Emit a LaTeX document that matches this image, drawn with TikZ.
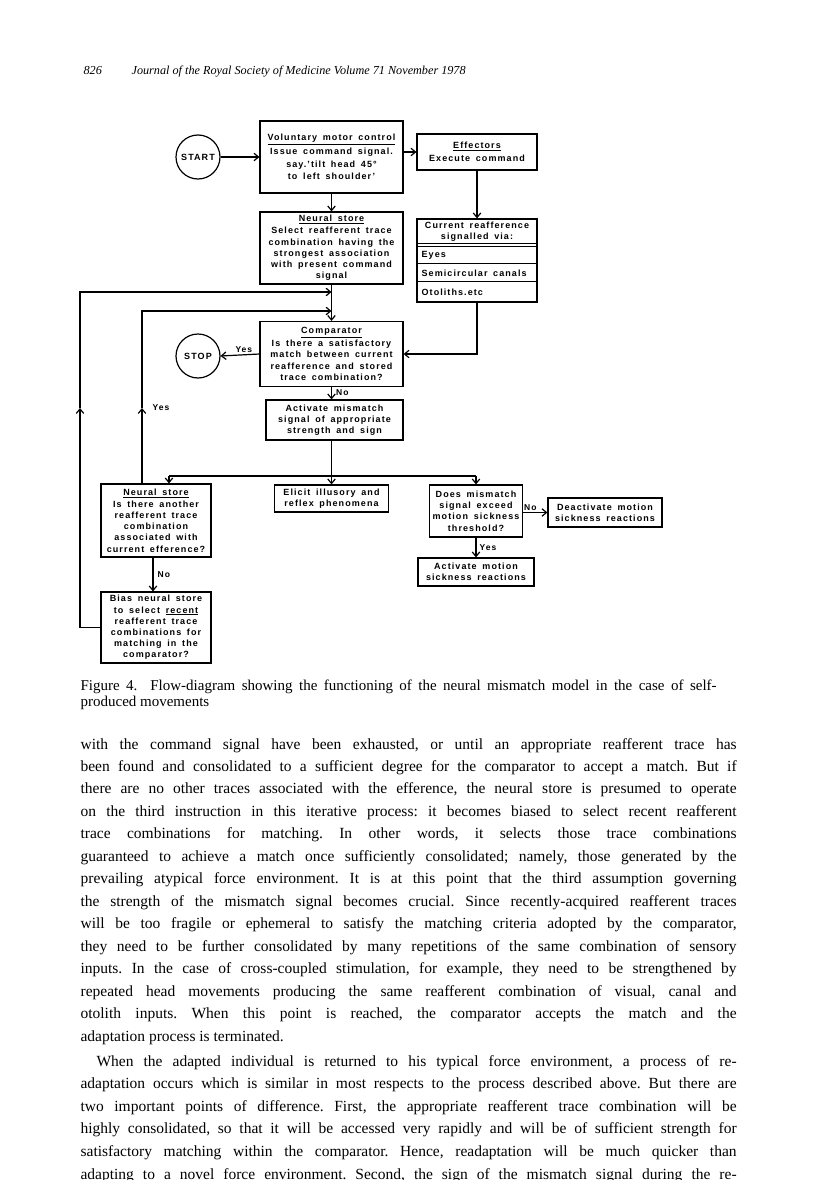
\documentclass[tikz,border=0pt]{standalone}
\usepackage{fontspec}
\setmainfont{Liberation Serif}
\newfontfamily\flowfont[LetterSpace=12,WordSpace=1.6]{Liberation Sans}
\usetikzlibrary{arrows.meta,calc}
\frenchspacing

\begin{document}
\begin{tikzpicture}[x=1pt, y=-1pt, line width=1.2pt,
  box/.style={draw, rectangle, inner sep=1pt, align=center,
    font=\flowfont\bfseries\fontsize{9}{11.2}\selectfont},
  term/.style={draw, circle, minimum size=44pt, inner sep=0pt,
    font=\flowfont\bfseries\fontsize{9}{11.2}\selectfont},
  lbl/.style={inner sep=1pt, font=\flowfont\bfseries\fontsize{8.5}{10}\selectfont},
  row/.style={anchor=west, inner sep=0pt, font=\flowfont\bfseries\fontsize{9}{11.2}\selectfont},
  arr/.style={-{Straight Barb[length=4.5pt,width=7.5pt]}},
  bodyline/.style={anchor=base west, inner sep=0pt, font=\fontsize{15.5}{22.5}\selectfont},
  capline/.style={anchor=base west, inner sep=0pt, font=\fontsize{15}{16}\selectfont}]

\useasboundingbox[fill=white] (0,0) rectangle (816,1180);

% running head
\node[anchor=base west, inner sep=0pt, font=\itshape\fontsize{12.2}{15}\selectfont] (pageno) at (83,75) {826};
\node[anchor=base west, inner sep=0pt, font=\itshape\fontsize{12.2}{15}\selectfont] (journal) at (131,75)
  {Journal of the Royal Society of Medicine Volume 71 November 1978};

% top row
\node[term] (start) at (198,157) {START};
\node[box, minimum width=143, minimum height=72] (vmc) at (331.5,157)
  {\underline{Voluntary motor control}\\[2.5pt]Issue command signal.\\[1.2pt]say.’tilt head 45°\\[1.2pt]to left shoulder’};
\node[box, minimum width=120, minimum height=36] (eff) at (477,152)
  {\underline{Effectors}\\[1.5pt]Execute command};

% neural store and current reafference
\node[box, minimum width=143, minimum height=72] (ns1) at (331.5,248)
  {\underline{Neural store}\\[0.8pt]Select reafferent trace\\combination having the\\strongest association\\with present command\\signal};
\node[draw, rectangle, minimum width=120, minimum height=83, inner sep=0pt] (cr) at (477,260.5) {};
\node[box, draw=none] (crhead) at (477,232) {Current reafference\\signalled via:};
\foreach \dy in {25,28.5,45,63}
  \draw[line width=0.9pt] ($(cr.north west)+(0,\dy)$) -- ($(cr.north east)+(0,\dy)$);
\node[row] (eyes) at (421,255.5) {Eyes};
\node[row] (semi) at (421,273) {Semicircular canals};
\node[row] (otol) at (421,292) {Otoliths.etc};

% comparator
\node[box, minimum width=143, minimum height=65] (comp) at (331.5,354)
  {\underline{Comparator}\\[1.5pt]Is there a satisfactory\\match between current\\reafference and stored\\trace combination?};
\node[term] (stop) at (198,356) {STOP};
\node[box, minimum width=137, minimum height=40] (act) at (334.5,420)
  {Activate mismatch\\signal of appropriate\\strength and sign};

% lower row
\node[box, minimum width=110, minimum height=73] (ns2) at (156,520.5)
  {\underline{Neural store}\\[0.8pt]Is there another\\reafferent trace\\combination\\associated with\\current efference?};
\node[box, minimum width=114, minimum height=27] (elicit) at (331.5,498.5)
  {Elicit illusory and\\reflex phenomena};
\node[box, minimum width=93, minimum height=52] (does) at (476,511)
  {Does mismatch\\signal exceed\\motion sickness\\threshold?};
\node[box, minimum width=114, minimum height=29] (deact) at (605,512.5)
  {Deactivate motion\\sickness reactions};
\node[box, minimum width=116, minimum height=28] (actms) at (476,572)
  {Activate motion\\sickness reactions};
\node[box, minimum width=110, minimum height=71] (bias) at (156,627.5)
  {Bias neural store\\to select \underline{recent}\\reafferent trace\\combinations for\\matching in the\\comparator?};

% connectors
\draw[arr] (start) -- (vmc);
\draw[arr] (eff.west -| vmc.east) -- (eff.west);
\draw[arr] (vmc) -- (ns1);
\draw[arr] (eff) -- (cr);
\draw[arr] (ns1) -- (comp);
\draw[arr] (cr.south) |- (comp.east);
\draw[arr] (comp.west) -- (stop.east) node[lbl, pos=0.4, above=1pt] (yesstop) {Yes};
\draw[arr] (comp.south) -- (comp.south |- act.north) node[lbl, pos=0.45, right=3pt] (nocomp) {No};

% fan-out below the mismatch signal
\coordinate (split) at (331.5,476);
\coordinate (nsin) at (169,476);
\draw (act.south -| split) -- (split);
\draw (nsin) -- (split -| does.north);
\draw[arr] (nsin) -- (nsin |- ns2.north);
\draw[arr] (split) -- (elicit.north);
\draw[arr] (split -| does.north) -- (does.north);
\draw[arr] (does.south) -- (actms.north) node[lbl, pos=0.5, right=2pt] (yesdoes) {Yes};
\draw[arr] (does.east |- deact.west) -- (deact.west) node[lbl, pos=0.3, above=0pt] (nodoes) {No};
\draw[arr] (ns2.south -| 153,0) -- (bias.north -| 153,0) node[lbl, pos=0.5, right=3pt] (nons) {No};

% the two feedback loops
\coordinate (outup) at (80,408);
\coordinate (outtop) at (80,292);
\coordinate (inup) at (142,408);
\coordinate (intop) at (142,311);
\draw[arr] (bias.west) -| (outup);
\draw[arr] (outup) |- (ns1.south |- outtop);
\draw[arr] (ns2.north -| inup) -- (inup);
\draw[arr] (inup) |- (ns1.south |- intop);
\node[lbl, anchor=west] (yesloop) at (151,408) {Yes};

% caption
\node[capline] (cap1) at (80,690)
  {\makebox[636pt][s]{Figure 4.\ \ Flow-diagram showing the functioning of the neural mismatch model in the case of self-}};
\node[capline] (cap2) at (80,706) {produced movements};

% body text
\foreach \txt [count=\k] in {
  {with the command signal have been exhausted, or until an appropriate reafferent trace has},
  {been found and consolidated to a sufficient degree for the comparator to accept a match. But if},
  {there are no other traces associated with the efference, the neural store is presumed to operate},
  {on the third instruction in this iterative process: it becomes biased to select recent reafferent},
  {trace combinations for matching. In other words, it selects those trace combinations},
  {guaranteed to achieve a match once sufficiently consolidated; namely, those generated by the},
  {prevailing atypical force environment. It is at this point that the third assumption governing},
  {the strength of the mismatch signal becomes crucial. Since recently-acquired reafferent traces},
  {will be too fragile or ephemeral to satisfy the matching criteria adopted by the comparator,},
  {they need to be further consolidated by many repetitions of the same combination of sensory},
  {inputs. In the case of cross-coupled stimulation, for example, they need to be strengthened by},
  {repeated head movements producing the same reafferent combination of visual, canal and},
  {otolith inputs. When this point is reached, the comparator accepts the match and the}}
  \node[bodyline] (para\k) at (80,{749+(\k-1)*22.46}) {\makebox[656pt][s]{\txt}};
\node[bodyline] (paraend) at (80,1041) {adaptation process is terminated.};

\foreach \txt [count=\k] in {
  {\hspace*{16pt}When the adapted individual is returned to his typical force environment, a process of re-},
  {adaptation occurs which is similar in most respects to the process described above. But there are},
  {two important points of difference. First, the appropriate reafferent trace combination will be},
  {highly consolidated, so that it will be accessed very rapidly and will be of sufficient strength for},
  {satisfactory matching within the comparator. Hence, readaptation will be much quicker than},
  {adapting to a novel force environment. Second, the sign of the mismatch signal during the re-}}
  \node[bodyline] (next\k) at (80,{1066+(\k-1)*22.6}) {\makebox[656pt][s]{\txt}};

\end{tikzpicture}
\end{document}
